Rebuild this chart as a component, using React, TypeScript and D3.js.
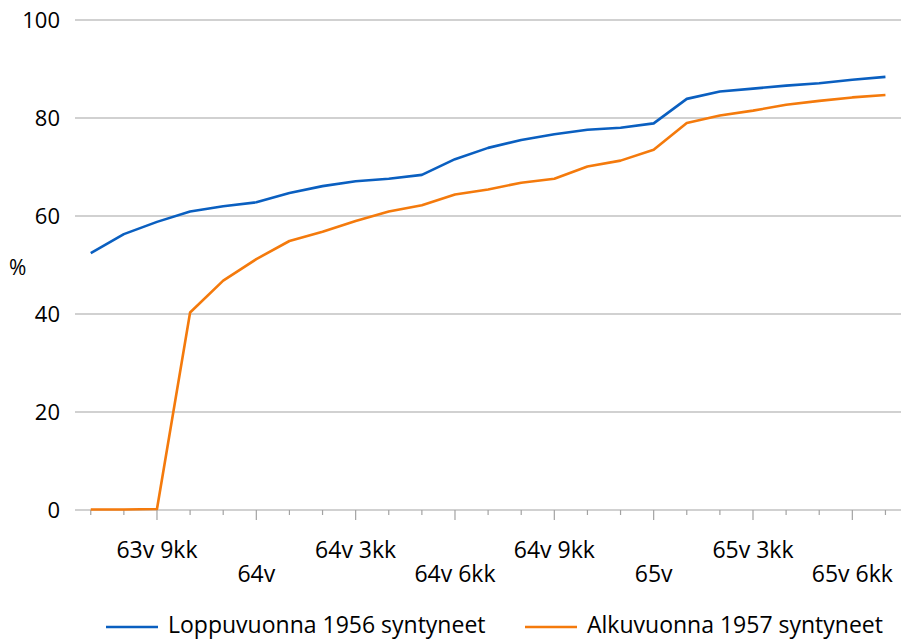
import React from "react";
import * as d3 from "d3";

const categories: string[] = [
  "63v 7kk", "63v 8kk", "63v 9kk", "63v 10kk", "63v 11kk",
  "64v", "64v 1kk", "64v 2kk", "64v 3kk", "64v 4kk", "64v 5kk", "64v 6kk",
  "64v 7kk", "64v 8kk", "64v 9kk", "64v 10kk", "64v 11kk",
  "65v", "65v 1kk", "65v 2kk", "65v 3kk", "65v 4kk", "65v 5kk", "65v 6kk", "65v 7kk",
];

const shownLabels: string[] = ["63v 9kk", "64v", "64v 3kk", "64v 6kk", "64v 9kk", "65v", "65v 3kk", "65v 6kk"];

const series1956: number[] = [
  52.4, 56.3, 58.8, 60.9, 62.0, 62.8, 64.7, 66.1, 67.1, 67.6, 68.4, 71.6,
  73.9, 75.5, 76.7, 77.6, 78.0, 78.9, 83.9, 85.4, 86.0, 86.6, 87.1, 87.8, 88.4,
];

const series1957: number[] = [
  0.1, 0.1, 0.2, 40.3, 46.8, 51.2, 54.9, 56.8, 59.0, 60.9, 62.2, 64.4,
  65.4, 66.8, 67.6, 70.1, 71.3, 73.5, 79.0, 80.5, 81.5, 82.7, 83.5, 84.2, 84.7,
];

const yTicks: number[] = [0, 20, 40, 60, 80, 100];

const seriesNames: string[] = ["Loppuvuonna 1956 syntyneet", "Alkuvuonna 1957 syntyneet"];
const colors: string[] = ["#0a5fc0", "#f47a0c"];

export default function App() {
  const W = 901;
  const H = 640;
  const font = "'Open Sans', sans-serif";
  const fs = 23;

  const x = d3.scalePoint<string>().domain(categories).range([74.2, 902]).padding(0.5);
  const y = d3.scaleLinear().domain([0, 100]).range([510, 20]);

  const line = d3
    .line<number>()
    .x((_, i) => x(categories[i]) as number)
    .y((d) => y(d));

  const data = [series1956, series1957];

  return (
    <svg
      width={W}
      height={H}
      style={{ position: "absolute", left: 0, top: 0, background: "#fff" }}
    >
      {yTicks.map((t) => (
        <g key={t}>
          <line x1={75} x2={901} y1={y(t)} y2={y(t)} stroke="#a3a3a3" strokeWidth={1.2} />
          <text
            x={60}
            y={y(t)}
            dy="0.36em"
            textAnchor="end"
            fontFamily={font}
            fontSize={fs - 1}
            fill="#000"
          >
            {t}
          </text>
        </g>
      ))}
      {categories.map((c) => {
        const long = shownLabels.includes(c);
        const xx = x(c) as number;
        return (
          <line
            key={c}
            x1={xx}
            x2={xx}
            y1={510}
            y2={long ? 520 : 515}
            stroke="#a3a3a3"
            strokeWidth={1.2}
          />
        );
      })}
      {shownLabels.map((c, k) => (
        <text
          key={c}
          x={x(c) as number}
          y={k % 2 === 0 ? 558 : 582}
          textAnchor="middle"
          fontFamily={font}
          fontSize={fs}
          fill="#000"
        >
          {c}
        </text>
      ))}
      <text x={9} y={275} fontFamily={font} fontSize={fs - 2} fill="#000">
        %
      </text>
      {data.map((s, k) => (
        <path
          key={k}
          d={line(s) ?? ""}
          fill="none"
          stroke={colors[k]}
          strokeWidth={2.6}
          strokeLinejoin="round"
        />
      ))}
      {seriesNames.map((n, k) => {
        const lx = k === 0 ? 106 : 525;
        return (
          <g key={n}>
            <line x1={lx} x2={lx + 52} y1={627} y2={627} stroke={colors[k]} strokeWidth={2.6} />
            <text x={lx + 62} y={633} fontFamily={font} fontSize={fs} fill="#000">
              {n}
            </text>
          </g>
        );
      })}
    </svg>
  );
}
